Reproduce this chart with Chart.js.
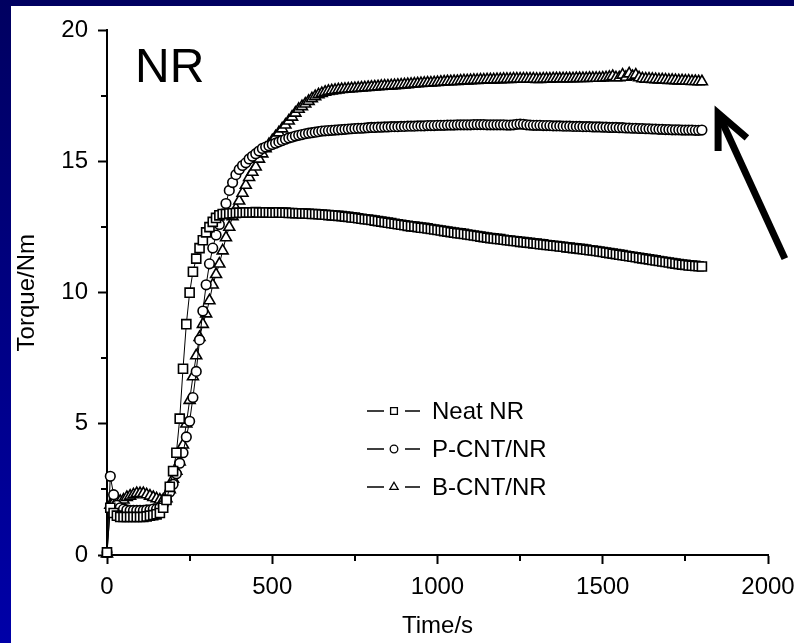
<!DOCTYPE html>
<html><head><meta charset="utf-8">
<script src="https://cdn.jsdelivr.net/npm/chart.js@4.4.1/dist/chart.umd.min.js"></script>
<style>
html,body{margin:0;padding:0;width:794px;height:643px;overflow:hidden;background:linear-gradient(to bottom,#000060,#0000a8);}
#panel{position:absolute;left:11px;top:6px;width:800px;height:637px;background:#fff;}
canvas{display:block;}
</style></head><body>
<div id="panel"><canvas id="c" width="800" height="637"></canvas></div>
<script>
// sampling times (s)
const times = [
0,10,20,30,40,50,60,70,80,90,
100,110,120,130,140,150,160,170,180,190,
200,210,220,230,240,250,260,270,280,290,
300,310,320,330,340,350,360,370,380,390,
400,410,420,430,440,450,460,470,480,490,
500,510,520,530,540,550,560,570,580,590,
600,610,620,630,640,650,660,670,680,690,
700,710,720,730,740,750,760,770,780,790,
800,810,820,830,840,850,860,870,880,890,
900,910,920,930,940,950,960,970,980,990,
1000,1010,1020,1030,1040,1050,1060,1070,1080,1090,
1100,1110,1120,1130,1140,1150,1160,1170,1180,1190,
1200,1210,1220,1230,1240,1250,1260,1270,1280,1290,
1300,1310,1320,1330,1340,1350,1360,1370,1380,1390,
1400,1410,1420,1430,1440,1450,1460,1470,1480,1490,
1500,1510,1520,1530,1540,1550,1560,1570,1580,1590,
1600,1610,1620,1630,1640,1650,1660,1670,1680,1690,
1700,1710,1720,1730,1740,1750,1760,1770,1780,1790,
1800];

// Torque (Nm) — Neat NR
const neatNR = [
0.1,1.8,1.6,1.5,1.45,1.45,1.45,1.45,1.45,1.45,
1.45,1.45,1.47,1.5,1.52,1.55,1.6,1.8,2.1,2.6,
3.2,3.9,5.2,7.1,8.8,10.0,10.8,11.3,11.7,12.0,
12.3,12.5,12.7,12.85,12.95,13.0,13.0,13.02,13.03,13.04,
13.05,13.05,13.06,13.06,13.06,13.07,13.06,13.06,13.06,13.06,
13.05,13.05,13.06,13.05,13.05,13.04,13.04,13.03,13.03,13.02,
13.02,13.01,13.0,13.0,12.99,12.98,12.97,12.96,12.95,12.94,
12.93,12.92,12.9,12.89,12.87,12.86,12.84,12.82,12.8,12.79,
12.77,12.75,12.73,12.71,12.69,12.67,12.65,12.63,12.61,12.59,
12.57,12.55,12.53,12.52,12.5,12.48,12.47,12.45,12.43,12.41,
12.39,12.37,12.35,12.33,12.31,12.29,12.27,12.26,12.24,12.22,
12.2,12.18,12.16,12.14,12.12,12.1,12.08,12.07,12.05,12.04,
12.02,12.0,11.99,11.97,11.96,11.94,11.93,11.91,11.9,11.88,
11.87,11.85,11.84,11.82,11.81,11.79,11.78,11.76,11.75,11.73,
11.72,11.7,11.69,11.67,11.66,11.64,11.62,11.61,11.59,11.57,
11.55,11.53,11.51,11.49,11.47,11.45,11.43,11.41,11.39,11.37,
11.35,11.33,11.31,11.29,11.27,11.25,11.23,11.21,11.19,11.17,
11.15,11.13,11.11,11.09,11.07,11.06,11.04,11.03,11.02,11.01,
11.0];

// Torque (Nm) — P-CNT/NR
const pcntNR = [
0.1,3.0,2.3,1.9,1.8,1.75,1.72,1.7,1.7,1.7,
1.7,1.7,1.72,1.72,1.75,1.75,1.8,1.9,2.1,2.4,
2.7,3.1,3.5,3.9,4.5,5.1,6.0,7.0,8.2,9.3,
10.3,11.1,11.7,12.2,12.6,13.0,13.4,13.9,14.2,14.5,
14.7,14.85,14.95,15.1,15.2,15.3,15.4,15.5,15.55,15.6,
15.65,15.7,15.75,15.8,15.85,15.9,15.93,15.97,16.0,16.03,
16.06,16.08,16.1,16.12,16.14,16.16,16.17,16.18,16.19,16.2,
16.21,16.22,16.23,16.24,16.25,16.26,16.27,16.27,16.28,16.29,
16.3,16.3,16.31,16.31,16.32,16.32,16.33,16.33,16.33,16.34,
16.34,16.35,16.35,16.35,16.36,16.36,16.36,16.37,16.37,16.37,
16.38,16.38,16.38,16.39,16.39,16.39,16.4,16.4,16.4,16.4,
16.4,16.41,16.41,16.41,16.41,16.4,16.4,16.4,16.4,16.4,
16.4,16.39,16.39,16.4,16.42,16.43,16.42,16.4,16.39,16.38,
16.38,16.38,16.37,16.37,16.37,16.36,16.36,16.36,16.35,16.35,
16.35,16.34,16.34,16.34,16.33,16.33,16.33,16.32,16.32,16.32,
16.31,16.31,16.3,16.3,16.3,16.29,16.29,16.28,16.28,16.27,
16.27,16.26,16.26,16.25,16.25,16.24,16.24,16.23,16.23,16.22,
16.22,16.21,16.21,16.21,16.2,16.2,16.2,16.2,16.19,16.19,
16.2];

// Torque (Nm) — B-CNT/NR
const bcntNR = [
0.05,1.9,2.0,2.05,2.05,2.1,2.2,2.25,2.3,2.35,
2.35,2.35,2.3,2.25,2.2,2.15,2.1,2.1,2.15,2.5,
2.9,3.2,3.55,4.2,5.0,5.9,6.8,7.6,8.3,8.8,
9.2,9.7,10.3,10.7,11.1,11.6,12.1,12.5,12.9,13.2,
13.5,13.8,14.1,14.4,14.6,14.8,15.1,15.3,15.5,15.65,
15.8,15.95,16.1,16.25,16.4,16.55,16.7,16.85,17.0,17.1,
17.2,17.3,17.4,17.48,17.55,17.6,17.65,17.68,17.7,17.72,
17.74,17.75,17.76,17.77,17.78,17.79,17.8,17.81,17.82,17.83,
17.84,17.85,17.86,17.87,17.88,17.88,17.89,17.9,17.91,17.92,
17.93,17.94,17.95,17.96,17.97,17.98,17.99,18.0,18.0,18.01,
18.02,18.03,18.04,18.05,18.05,18.06,18.06,18.07,18.08,18.08,
18.09,18.1,18.1,18.11,18.11,18.12,18.12,18.12,18.13,18.13,
18.14,18.14,18.14,18.15,18.15,18.15,18.15,18.15,18.15,18.15,
18.14,18.14,18.15,18.15,18.15,18.16,18.16,18.16,18.16,18.16,
18.16,18.16,18.17,18.17,18.17,18.17,18.18,18.18,18.18,18.18,
18.19,18.2,18.22,18.25,18.2,18.2,18.3,18.22,18.35,18.25,
18.3,18.2,18.16,18.15,18.15,18.14,18.13,18.12,18.12,18.11,
18.1,18.1,18.09,18.08,18.08,18.07,18.07,18.06,18.06,18.05,
18.05];

const seriesNames = ['Neat NR', 'P-CNT/NR', 'B-CNT/NR'];
const xTicks = [0, 500, 1000, 1500, 2000];
const yTicks = [0, 5, 10, 15, 20];
const xMinorTicks = [250, 750, 1250, 1750];
const yMinorTicks = [2.5, 7.5, 12.5, 17.5];
const panelLabel = 'NR';

const FONT = 'Liberation Sans, Arial, sans-serif';
const styles = ['rect', 'circle', 'triangle'];
const radii = [6.4, 4.8, 6.3];
const allSeries = [neatNR, pcntNR, bcntNR];

const datasets = allSeries.map((vals, i) => ({
  label: seriesNames[i],
  data: times.map((t, k) => ({x: t, y: vals[k]})),
  showLine: true,
  borderColor: '#000',
  borderWidth: 1,
  pointStyle: styles[i],
  pointRadius: radii[i],
  pointHoverRadius: radii[i],
  pointBackgroundColor: '#fff',
  pointBorderColor: '#000',
  pointBorderWidth: 1.6,
  clip: false
}));

const decor = {
  id: 'decor',
  afterDraw(chart) {
    const ctx = chart.ctx;
    const xs = chart.scales.x, ys = chart.scales.y;
    const ca = chart.chartArea;
    ctx.save();
    // minor ticks
    ctx.strokeStyle = '#000';
    ctx.lineWidth = 2;
    ctx.beginPath();
    xMinorTicks.forEach(v => {
      const p = Math.round(xs.getPixelForValue(v));
      ctx.moveTo(p, ca.bottom); ctx.lineTo(p, ca.bottom + 6);
    });
    yMinorTicks.forEach(v => {
      const p = Math.round(ys.getPixelForValue(v));
      ctx.moveTo(ca.left - 6, p); ctx.lineTo(ca.left, p);
    });
    ctx.stroke();

    // panel label
    ctx.fillStyle = '#000';
    ctx.font = '48px ' + FONT;
    ctx.textAlign = 'left';
    ctx.textBaseline = 'alphabetic';
    ctx.fillText(panelLabel, ca.left + 28, 76);

    // legend
    const rowsY = [405, 443, 481];
    const lx0 = 356;
    ctx.font = '24px ' + FONT;
    ctx.textBaseline = 'middle';
    seriesNames.forEach((name, i) => {
      const y = rowsY[i];
      ctx.strokeStyle = '#000';
      ctx.lineWidth = 1.5;
      ctx.beginPath();
      ctx.moveTo(lx0, y); ctx.lineTo(lx0 + 17, y);
      ctx.moveTo(lx0 + 38, y); ctx.lineTo(lx0 + 53, y);
      ctx.stroke();
      ctx.fillStyle = '#fff';
      ctx.strokeStyle = '#000';
      ctx.lineWidth = 1.3;
      Chart.helpers.drawPoint(ctx, {pointStyle: styles[i], rotation: 0, radius: [4.8, 3.8, 4.8][i], borderWidth: 1.3}, lx0 + 27, y);
      ctx.fillStyle = '#000';
      ctx.fillText(name, lx0 + 65, y + 1);
    });

    // arrow
    const tipX = xs.getPixelForValue(1849), tipY = ys.getPixelForValue(16.85);
    const endX = xs.getPixelForValue(2051), endY = ys.getPixelForValue(11.3);
    const ang = Math.atan2(endY - tipY, endX - tipX);
    const hl = 38, spread = 0.43;
    ctx.strokeStyle = '#000';
    ctx.lineWidth = 7;
    ctx.lineCap = 'butt';
    ctx.lineJoin = 'miter';
    ctx.beginPath();
    ctx.moveTo(tipX + Math.cos(ang) * 6, tipY + Math.sin(ang) * 6);
    ctx.lineTo(endX, endY);
    ctx.stroke();
    ctx.beginPath();
    ctx.moveTo(tipX + Math.cos(ang + spread) * hl, tipY + Math.sin(ang + spread) * hl);
    ctx.lineTo(tipX, tipY);
    ctx.lineTo(tipX + Math.cos(ang - spread) * hl, tipY + Math.sin(ang - spread) * hl);
    ctx.stroke();
    ctx.restore();
  }
};

new Chart(document.getElementById('c'), {
  type: 'scatter',
  data: {datasets},
  options: {
    responsive: false,
    animation: false,
    devicePixelRatio: 1,
    layout: {padding: {top: 13, right: 43, left: 0, bottom: 0}},
    plugins: {legend: {display: false}, tooltip: {enabled: false}},
    scales: {
      x: {
        type: 'linear', min: 0, max: 2000,
        afterBuildTicks: s => { s.ticks = xTicks.map(v => ({value: v})); },
        afterFit: s => { s.height = 88; },
        grid: {drawOnChartArea: false, drawTicks: true, tickLength: 9, tickWidth: 2, tickColor: '#000'},
        border: {display: true, color: '#000', width: 2},
        ticks: {color: '#000', font: {family: FONT, size: 24}, padding: 9, maxRotation: 0, autoSkip: false, callback: v => String(v)},
        title: {display: true, text: 'Time/s', color: '#000', font: {family: FONT, size: 24}, padding: {top: 0, bottom: 2}}
      },
      y: {
        type: 'linear', min: 0, max: 20,
        afterBuildTicks: s => { s.ticks = yTicks.map(v => ({value: v})); },
        afterFit: s => { s.width = 96; },
        grid: {drawOnChartArea: false, drawTicks: true, tickLength: 9, tickWidth: 2, tickColor: '#000'},
        border: {display: true, color: '#000', width: 2},
        ticks: {color: '#000', font: {family: FONT, size: 24}, padding: 10, autoSkip: false, callback: v => String(v)},
        title: {display: true, text: 'Torque/Nm', color: '#000', font: {family: FONT, size: 24}, padding: {top: 2, bottom: 0}}
      }
    }
  },
  plugins: [decor]
});
</script>
</body></html>
